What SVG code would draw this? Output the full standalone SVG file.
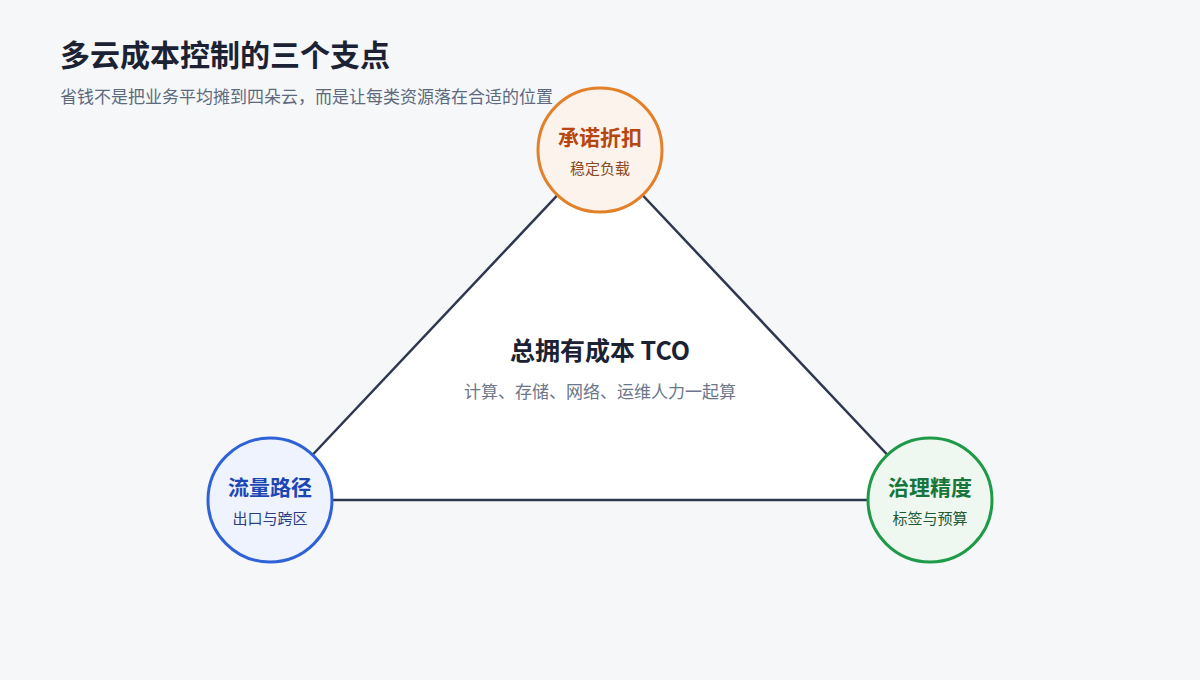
<svg xmlns="http://www.w3.org/2000/svg" width="1200" height="680" viewBox="0 0 1200 680">
<style>
.t{font-family:"Noto Sans CJK SC","Liberation Sans",sans-serif}
.h{font-size:21px;font-weight:700}
.s{font-size:15px}
.c{stroke-width:3}
</style>
<rect width="1200" height="680" fill="#f6f7f9"/>
<text class="t" x="60" y="66" font-size="30" font-weight="700" fill="#1a2233">多云成本控制的三个支点</text>
<text class="t" x="60" y="103" font-size="17" fill="#5c6a80">省钱不是把业务平均摊到四朵云，而是让每类资源落在合适的位置</text>
<g id="connectors">
<polygon points="600,150 270,500 930,500" fill="#ffffff" stroke="#2f3850" stroke-width="2.5" stroke-linejoin="round"/>
</g>
<g id="center">
<text class="t" x="600" y="360" text-anchor="middle" font-size="25" font-weight="700" fill="#1a2233">总拥有成本 TCO</text>
<text class="t" x="600" y="398" text-anchor="middle" font-size="17" fill="#6b7689">计算、存储、网络、运维人力一起算</text>
</g>
<g id="commit">
<circle class="c" cx="600" cy="150" r="62" fill="#fcf4ec" stroke="#e3802a"/>
<text class="t h" x="600" y="145" text-anchor="middle" fill="#b5470f">承诺折扣</text>
<text class="t s" x="600" y="174" text-anchor="middle" fill="#8a4a25">稳定负载</text>
</g>
<g id="traffic">
<circle class="c" cx="270" cy="500" r="62" fill="#eef3fd" stroke="#2f62d8"/>
<text class="t h" x="270" y="495" text-anchor="middle" fill="#1d46b5">流量路径</text>
<text class="t s" x="270" y="524" text-anchor="middle" fill="#2a3f86">出口与跨区</text>
</g>
<g id="governance">
<circle class="c" cx="930" cy="500" r="62" fill="#eef8f1" stroke="#1e9a48"/>
<text class="t h" x="930" y="495" text-anchor="middle" fill="#16753a">治理精度</text>
<text class="t s" x="930" y="524" text-anchor="middle" fill="#1f5a34">标签与预算</text>
</g>
</svg>
